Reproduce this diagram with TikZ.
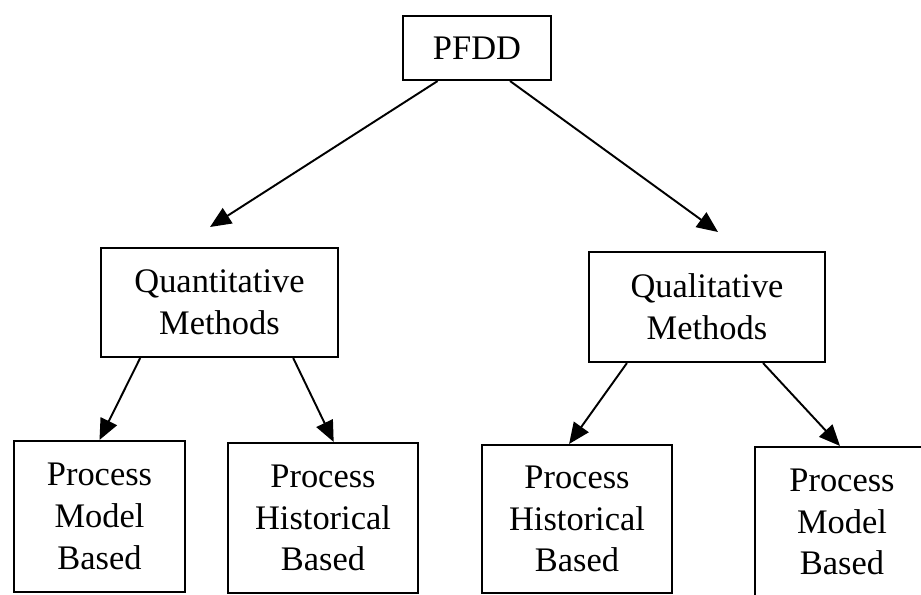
\documentclass[tikz,border=0pt]{standalone}
\usepackage{fontspec}
\setmainfont{Liberation Serif}
\usetikzlibrary{arrows.meta}
\tikzset{box/.style={draw,line width=1.2pt,align=center,inner sep=0pt,font=\fontsize{19.6}{23.8}\selectfont},
arr/.style={line width=1.1pt,-{Triangle[length=0.42cm,width=0.36cm]}}}
\begin{document}
\begin{tikzpicture}[x=0.02cm,y=-0.02cm]
\useasboundingbox (0,0) rectangle (921,595);
\clip (0,0) rectangle (921,595);
\node[box,minimum width=2.96cm,minimum height=1.28cm] (pfdd) at (477,48) {PFDD};
\node[box,minimum width=4.74cm,minimum height=2.18cm] (quant) at (219.5,302.5) {Quantitative\\Methods};
\node[box,minimum width=4.72cm,minimum height=2.2cm] (qual) at (707,307) {Qualitative\\Methods};
\node[box,minimum width=3.42cm,minimum height=3.02cm] (pmbL) at (99.5,516.5) {Process\\Model\\Based};
\node[box,minimum width=3.8cm,minimum height=3cm] (phbL) at (323,518) {Process\\Historical\\Based};
\node[box,minimum width=3.8cm,minimum height=2.96cm] (phbR) at (577,519) {Process\\Historical\\Based};
\node[box,minimum width=3.48cm,minimum height=3cm] (pmbR) at (842,522) {Process\\Model\\Based};
\coordinate (quantTip) at (210,227);
\coordinate (qualTip) at (718,232);
\draw[arr] (pfdd.220.9) -- (quantTip);
\draw[arr] (pfdd.315.9) -- (qualTip);
\draw[arr] (quant.215.1) -- (pmbL.north);
\draw[arr] (quant.323.4) -- (phbL.82.5);
\draw[arr] (qual.215.5) -- (phbR.96.9);
\draw[arr] (qual.315) -- ([xshift=-0.04cm]pmbR.north);
\end{tikzpicture}
\end{document}
